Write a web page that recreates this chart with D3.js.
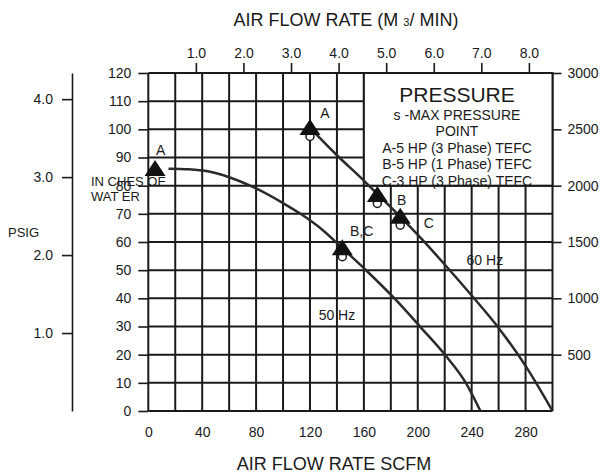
<!DOCTYPE html>
<html>
<head>
<meta charset="utf-8">
<script src="https://d3js.org/d3.v7.min.js"></script>
<style>
  body { margin: 0; background: #fff; }
  svg text { font-family: "Liberation Sans", Arial, sans-serif; fill: #1a1a1a; }
  .axis path, .axis line { stroke: #1a1a1a; stroke-width: 1.6px; }
  .axis text { font-size: 14px; }
</style>
</head>
<body>
<svg id="chart" width="604" height="473"></svg>
<script>
// ticks
const scfmTicks = [0, 40, 80, 120, 160, 200, 240, 280];
const m3Ticks = [1, 2, 3, 4, 5, 6, 7, 8];
const inchTicks = [0, 10, 20, 30, 40, 50, 60, 70, 80, 90, 100, 110, 120];
const psigTicks = [1, 2, 3, 4];
const mmTicks = [500, 1000, 1500, 2000, 2500, 3000];

// curves (SCFM vs inches of water)
const scfm60 = [120, 140, 160, 170, 187, 203, 220, 240, 260, 280, 300];
const inch60 = [100.5, 90.8, 81.8, 77, 69, 61, 52, 41, 29.5, 16, 0];
const scfm50 = [15, 30, 45, 60, 80, 100, 113, 130, 144, 162, 182, 202, 221, 235, 246.5];
const inch50 = [86, 85.8, 85, 83, 79, 73.8, 70, 64, 57.8, 49.8, 40.3, 29.8, 19.5, 10.5, 0];

// max pressure points
const markScfm = [5, 120, 170, 187, 144];
const markInch = [85.9, 100.5, 76.7, 69, 57.8];

// text labels on the plot (SCFM, inches)
const noteText = ["A", "A", "B", "C", "B,C", "60 Hz", "50 Hz"];
const noteScfm = [9.2, 131, 188, 208.2, 158.3, 249.8, 140];
const noteInch = [92.6, 105.7, 74.9, 66.6, 64, 53.6, 34.1];

const legendLines = ["s -MAX PRESSURE", "POINT", "A-5 HP (3 Phase) TEFC", "B-5 HP (1 Phase) TEFC", "C-3 HP (3 Phase) TEFC"];

const plotLeft = 148.3, plotRight = 552.5, plotTop = 73, plotBottom = 411;
const dark = "#1a1a1a";

const svg = d3.select("#chart");

const x = d3.scaleLinear().domain([0, 300]).range([plotLeft, plotRight]);
const y = d3.scaleLinear().domain([0, 120]).range([plotBottom, plotTop]);
const xM3 = d3.scaleLinear().domain([0, 300 / 35.31]).range([plotLeft, plotRight]);
const yPsig = d3.scaleLinear().domain([0, 120 / 27.68]).range([plotBottom, plotTop]);
const yMm = d3.scaleLinear().domain([0, 3000]).range([plotBottom, plotTop]);

// grid
svg.append("g").selectAll("line")
  .data(d3.range(0, 301, 20))
  .enter().append("line")
  .attr("x1", d => x(d)).attr("x2", d => x(d))
  .attr("y1", y(0)).attr("y2", y(120))
  .attr("stroke", dark).attr("stroke-width", 2);

svg.append("g").selectAll("line")
  .data(d3.range(0, 121, 10))
  .enter().append("line")
  .attr("x1", x(0)).attr("x2", x(300))
  .attr("y1", d => y(d)).attr("y2", d => y(d))
  .attr("stroke", dark).attr("stroke-width", 2);

// legend box covers the grid corner
svg.append("rect")
  .attr("x", x(160)).attr("y", y(120))
  .attr("width", x(300) - x(160)).attr("height", y(80) - y(120))
  .attr("fill", "#fff").attr("stroke", dark).attr("stroke-width", 2);

// axes
svg.append("g").attr("class", "axis")
  .attr("transform", "translate(" + plotLeft + ",0)")
  .call(d3.axisLeft(y).tickValues(inchTicks).tickSize(10).tickPadding(7))
  .call(g => g.select(".domain").remove());

svg.append("g").attr("class", "axis")
  .attr("transform", "translate(0," + plotBottom + ")")
  .call(d3.axisBottom(x).tickValues(scfmTicks).tickSize(0).tickPadding(16))
  .call(g => g.select(".domain").remove());

svg.append("g").attr("class", "axis")
  .attr("transform", "translate(0," + plotTop + ")")
  .call(d3.axisTop(xM3).tickValues(m3Ticks).tickFormat(d3.format(".1f")).tickSize(10).tickPadding(5))
  .call(g => g.select(".domain").remove());

svg.append("g").attr("class", "axis")
  .attr("transform", "translate(" + plotRight + ",0)")
  .call(d3.axisRight(yMm).tickValues(mmTicks).tickFormat(d3.format("d")).tickSize(9).tickPadding(6))
  .call(g => g.select(".domain").remove());

svg.append("g").attr("class", "axis")
  .attr("transform", "translate(72,0)")
  .call(d3.axisLeft(yPsig).tickValues(psigTicks).tickFormat(d3.format(".1f")).tickSize(10).tickPadding(9).tickSizeOuter(0));

// curves
const line = d3.line().curve(d3.curveMonotoneX).x(d => x(d[0])).y(d => y(d[1]));
[d3.zip(scfm60, inch60), d3.zip(scfm50, inch50)].forEach(pts => {
  svg.append("path").datum(pts)
    .attr("d", line)
    .attr("fill", "none").attr("stroke", "#2a2a2a").attr("stroke-width", 2.5);
});

// markers: small circle tucked under a filled triangle
const marks = d3.zip(markScfm, markInch);
svg.append("g").selectAll("circle")
  .data(marks.slice(1))
  .enter().append("circle")
  .attr("cx", d => x(d[0])).attr("cy", d => y(d[1]) + 8.5)
  .attr("r", 4).attr("fill", "#fff").attr("stroke", dark).attr("stroke-width", 1.5);

svg.append("g").selectAll("path")
  .data(marks)
  .enter().append("path")
  .attr("d", d => {
    const cx = x(d[0]), cy = y(d[1]);
    return "M" + cx + "," + (cy - 9) + "L" + (cx + 10.5) + "," + (cy + 7) + "L" + (cx - 10.5) + "," + (cy + 7) + "Z";
  })
  .attr("fill", "#111");

// plot notes
svg.append("g").selectAll("text")
  .data(d3.zip(noteText, noteScfm, noteInch))
  .enter().append("text")
  .attr("x", d => x(d[1])).attr("y", d => y(d[2]))
  .attr("dy", "0.35em")
  .attr("text-anchor", "middle")
  .style("font-size", "14px")
  .text(d => d[0]);

// legend text
const legX = 457;
svg.append("text").attr("x", legX).attr("y", 102)
  .attr("text-anchor", "middle").style("font-size", "21px").text("PRESSURE");
svg.append("g").selectAll("text")
  .data(legendLines)
  .enter().append("text")
  .attr("x", legX).attr("y", (d, i) => 119.5 + i * 16.5)
  .attr("text-anchor", "middle").style("font-size", "14px")
  .text(d => d);

// axis titles
const t = svg.append("text").attr("x", 346).attr("y", 26)
  .attr("text-anchor", "middle").style("font-size", "18px");
t.append("tspan").text("AIR FLOW RATE (M ");
t.append("tspan").style("font-size", "11px").text("3");
t.append("tspan").text("/ MIN)");

svg.append("text").attr("x", 334).attr("y", 470)
  .attr("text-anchor", "middle").style("font-size", "18px").text("AIR FLOW RATE SCFM");

svg.append("text").attr("x", 8).attr("y", 237)
  .style("font-size", "13px").text("PSIG");

svg.append("text").attr("x", 91).attr("y", 186)
  .style("font-size", "13px").text("IN CHES OF");
svg.append("text").attr("x", 91).attr("y", 201)
  .style("font-size", "13px").text("WAT ER");
</script>
</body>
</html>
